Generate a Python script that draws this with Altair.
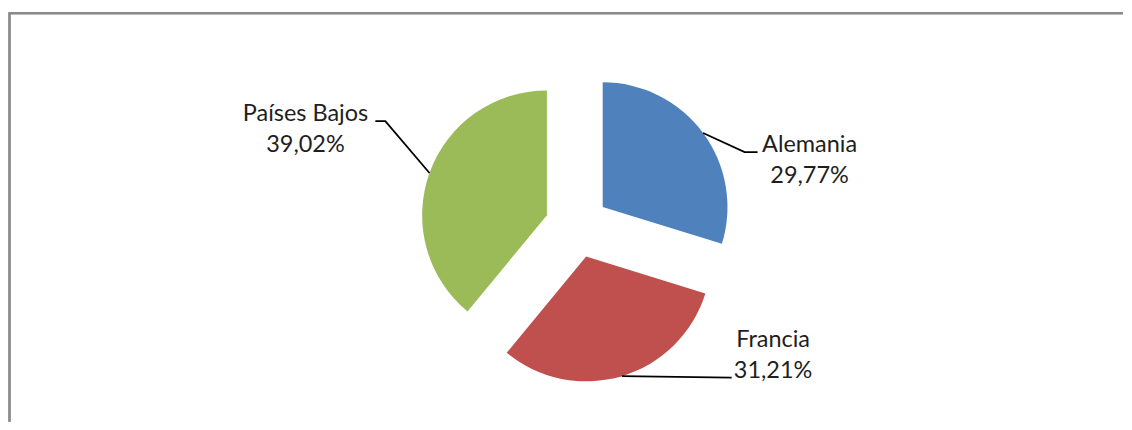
import math
import altair as alt
import pandas as pd

# ---- data ----
categories = ["Alemania", "Francia", "Países Bajos"]
values = [29.77, 31.21, 39.02]
pct_labels = ["29,77%", "31,21%", "39,02%"]
colors = ["#4F81BD", "#C0504D", "#9BBB59"]

# ---- layout (radius units, y up, relative to exploded slice centre) ----
W, H = 1116, 414
R = 125                      # pie radius in px
CX, CY = 569, 218            # pie centre in plot px
EXPLODE = 0.256
LINE_GAP = 0.248
label_dx = [1.658, 1.498, -1.935]
label_dy = [0.44, -0.722, 0.754]
leader_end = [(1.2416, 0.44), (1.166, -0.970), (-1.375, 0.754)]
leader_elbow = [(1.1376, 0.44), (1.166, -0.970), (-1.295, 0.754)]

xscale = alt.Scale(domain=[-CX / R, (W - CX) / R], range=[0, W])
yscale = alt.Scale(domain=[-(H - CY) / R, CY / R], range=[H, 0])
cscale = alt.Scale(domain=categories, range=colors)

total = sum(values)
rows, lead, txt = [], [], []
acc = 0.0
for i, (c, v) in enumerate(zip(categories, values)):
    t0, t1 = acc, acc + v
    acc = t1
    mid = (t0 + t1) / 2 / total * 2 * math.pi
    ex, ey = EXPLODE * math.sin(mid), EXPLODE * math.cos(mid)
    rows.append(dict(cat=c, t0=t0, t1=t1, ex=ex, ey=ey))
    pts = [(math.sin(mid), math.cos(mid)), leader_elbow[i], leader_end[i]]
    for k, (px, py) in enumerate(pts):
        lead.append(dict(cat=c, o=k, x=ex + px, y=ey + py))
    txt.append(dict(cat=c, kind="name", s=c, x=ex + label_dx[i], y=ey + label_dy[i]))
    txt.append(dict(cat=c, kind="pct", s=pct_labels[i], x=ex + label_dx[i],
                    y=ey + label_dy[i] - LINE_GAP))

df = pd.DataFrame(rows)
dl = pd.DataFrame(lead)
dt = pd.DataFrame(txt)

arcs = alt.Chart(df).mark_arc(outerRadius=R).encode(
    x=alt.X("ex:Q", scale=xscale, axis=None),
    y=alt.Y("ey:Q", scale=yscale, axis=None),
    theta=alt.Theta("t0:Q", scale=alt.Scale(domain=[0, total], range=[0, 2 * math.pi])),
    theta2="t1:Q",
    color=alt.Color("cat:N", scale=cscale, legend=None),
)

leaders = alt.Chart(dl).mark_line(color="#000000", strokeWidth=1.8).encode(
    x=alt.X("x:Q", scale=xscale, axis=None),
    y=alt.Y("y:Q", scale=yscale, axis=None),
    detail="cat:N",
    order="o:Q",
)

texts = alt.Chart(dt).mark_text(
    font="Lato", fontSize=23.5, color="#1e1e1e", align="center", baseline="alphabetic"
).encode(
    x=alt.X("x:Q", scale=xscale, axis=None),
    y=alt.Y("y:Q", scale=yscale, axis=None),
    text="s:N",
)

frame_top = alt.Chart(df).mark_rule(color="#8a8a8a", strokeWidth=2).encode(
    x=alt.value(0), x2=alt.value(W), y=alt.value(5)
)
frame_left = alt.Chart(df).mark_rule(color="#8a8a8a", strokeWidth=2).encode(
    x=alt.value(0.5), y=alt.value(4), y2=alt.value(H)
)

chart = alt.layer(frame_top, frame_left, arcs, leaders, texts).properties(
    width=W, height=H, padding=0, background="white"
).configure_view(stroke=None)

chart.save("out.html", embed_options={"renderer": "svg", "actions": False})
